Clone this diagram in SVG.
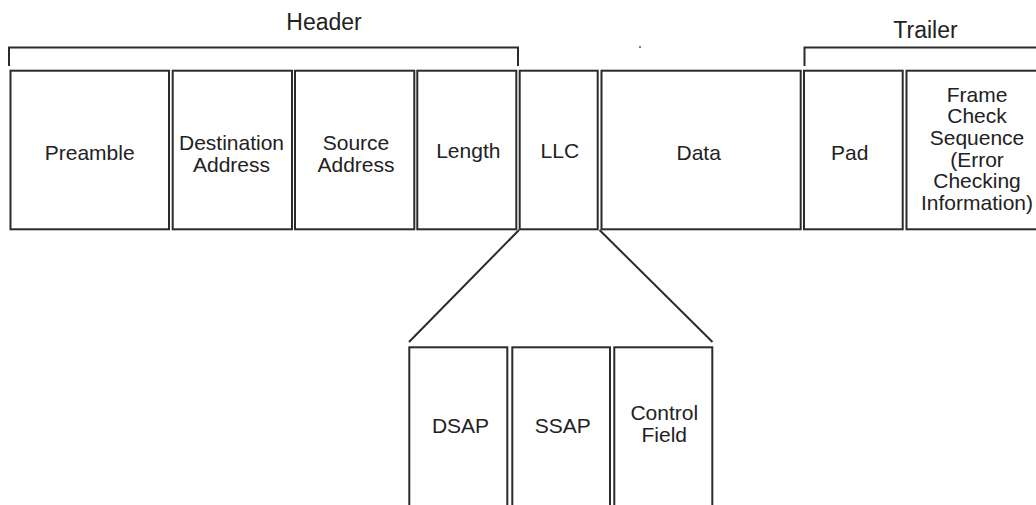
<svg xmlns="http://www.w3.org/2000/svg" width="1036" height="505" viewBox="0 0 1036 505">
<style>
.box{fill:#fff;stroke:#2b2b2b;stroke-width:2}
.ln{fill:none;stroke:#2b2b2b;stroke-width:2}
.t{font-family:"Liberation Sans",Arial,sans-serif;font-size:21px;fill:#222;text-anchor:middle}
.h{font-family:"Liberation Sans",Arial,sans-serif;font-size:23px;fill:#222;text-anchor:middle}
</style>
<rect width="1036" height="505" fill="#fff"/>
<g id="brackets">
<path class="ln" d="M9,66 V47.5 H518 V66"/>
<path class="ln" d="M804.5,66 V47.5 H1040"/>
<text class="h" x="324" y="29.5">Header</text>
<text class="h" x="925.5" y="37.5">Trailer</text>
<circle cx="640" cy="47" r="1" fill="#555"/>
</g>
<g id="connectors">
<line class="ln" x1="519" y1="230" x2="409" y2="342"/>
<line class="ln" x1="599.5" y1="230" x2="712.5" y2="342"/>
</g>
<g id="preamble"><rect class="box" x="10.5" y="70.7" width="158.5" height="158.6"/><text class="t" x="89.7" y="159.5">Preamble</text></g>
<g id="destination"><rect class="box" x="172.7" y="70.7" width="119.3" height="158.6"/><text class="t" x="231.5" y="150">Destination</text><text class="t" x="231.5" y="171.7">Address</text></g>
<g id="source"><rect class="box" x="295" y="70.7" width="119.3" height="158.6"/><text class="t" x="356" y="150">Source</text><text class="t" x="356" y="171.7">Address</text></g>
<g id="length"><rect class="box" x="417.3" y="70.7" width="99" height="158.6"/><text class="t" x="468.3" y="158">Length</text></g>
<g id="llc"><rect class="box" x="519.7" y="70.7" width="78" height="158.6"/><text class="t" x="559.8" y="158">LLC</text></g>
<g id="data"><rect class="box" x="601.5" y="70.7" width="199.2" height="158.6"/><text class="t" x="698.7" y="160">Data</text></g>
<g id="pad"><rect class="box" x="804" y="70.7" width="98.7" height="158.6"/><text class="t" x="849.7" y="160">Pad</text></g>
<g id="fcs"><rect class="box" x="906.5" y="70.7" width="140" height="158.6"/>
<text class="t" x="977" y="101.7">Frame</text>
<text class="t" x="977" y="123.3">Check</text>
<text class="t" x="977" y="145">Sequence</text>
<text class="t" x="977" y="166.7">(Error</text>
<text class="t" x="977" y="188.3">Checking</text>
<text class="t" x="977" y="210">Information)</text>
</g>
<g id="dsap"><rect class="box" x="409.3" y="347.3" width="98" height="170"/><text class="t" x="460.5" y="433.3">DSAP</text></g>
<g id="ssap"><rect class="box" x="512.3" y="347.3" width="97.7" height="170"/><text class="t" x="562.8" y="433.3">SSAP</text></g>
<g id="control"><rect class="box" x="614.3" y="347.3" width="98" height="170"/><text class="t" x="664.3" y="420">Control</text><text class="t" x="664.3" y="441.7">Field</text></g>
</svg>
